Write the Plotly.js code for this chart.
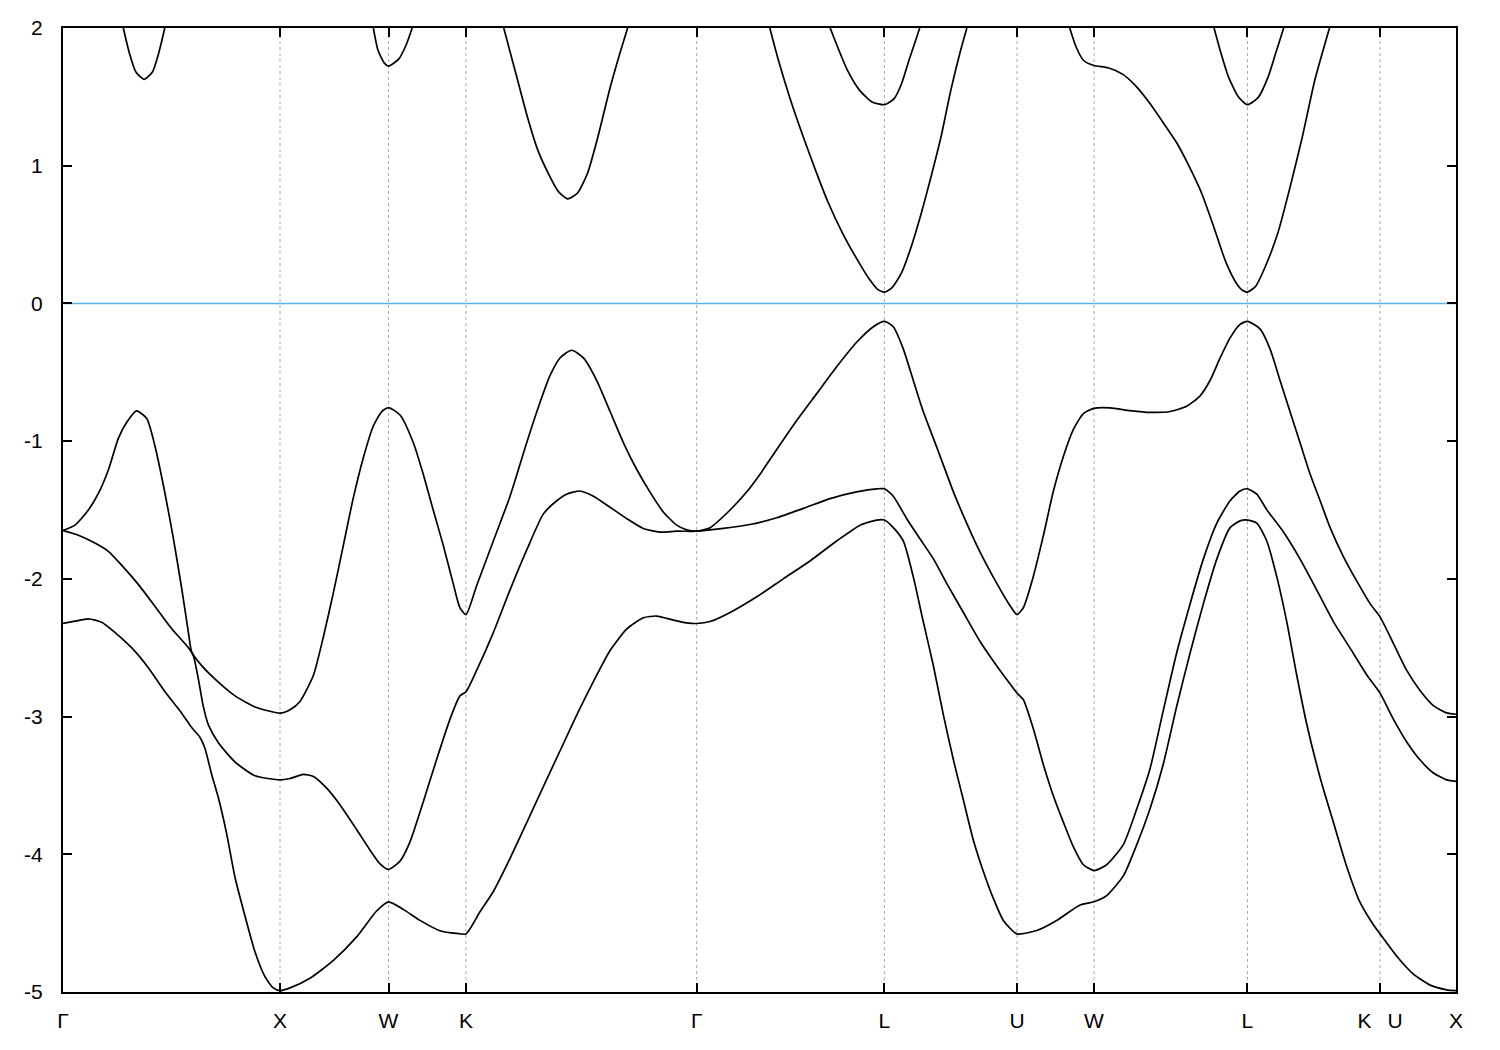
<!DOCTYPE html>
<html>
<head>
<meta charset="utf-8">
<script src="https://cdn.plot.ly/plotly-3.0.1.min.js"></script>
<style>html,body{margin:0;padding:0;background:#fff;}#chart{width:1500px;height:1050px;}</style>
</head>
<body>
<div id="chart"></div>
<script>
// High-symmetry points along the k-path
const kTickVals = [0, 1.0, 1.5, 1.857, 2.92, 3.785, 4.396, 4.751, 5.458, 6.069, 6.419];
const kTickText = ["Γ", "X", "W", "K", "Γ", "L", "U", "W", "L", "K\u00A0\u00A0\u2009U", "X"];
const kGridVals = [1.0, 1.5, 1.857, 2.92, 3.785, 4.396, 4.751, 5.458, 6.069];
const eTickVals = [-5, -4, -3, -2, -1, 0, 1, 2];
const eTickText = ["-5", "-4", "-3", "-2", "-1", "0", "1", "2"];

// Valence band 1 (highest)
const v1k = [0,0.055,0.117,0.163,0.209,0.255,0.293,0.339,0.386,0.424,0.47,0.508,0.547,0.578,0.593,0.639,0.716,0.793,0.885,1.0,
1.046,1.092,1.154,1.2,1.246,1.292,1.338,1.384,1.43,1.469,1.5,1.553,1.614,1.66,1.706,1.752,1.799,1.829,1.857,
1.906,1.983,2.06,2.137,2.198,2.244,2.29,2.344,2.398,2.459,2.521,2.582,2.644,2.705,2.766,2.828,2.874,2.92,
2.982,3.074,3.151,3.212,3.289,3.381,3.473,3.565,3.657,3.734,3.785,
3.826,3.872,3.918,3.964,4.011,4.057,4.103,4.164,4.226,4.303,4.364,4.396,
4.425,4.471,4.517,4.563,4.61,4.656,4.702,4.751,
4.825,4.917,5.009,5.101,5.178,5.24,5.286,5.332,5.378,5.424,5.458,
5.516,5.562,5.608,5.654,5.700,5.747,5.793,5.839,5.900,5.962,6.023,6.069,6.131,6.192,6.253,6.315,6.376,6.419];
const v1e = [-1.649,-1.61,-1.50,-1.38,-1.21,-0.98,-0.865,-0.78,-0.836,-1.037,-1.38,-1.70,-2.07,-2.39,-2.53,-2.63,-2.75,-2.85,-2.93,-2.975,
-2.95,-2.89,-2.70,-2.42,-2.10,-1.755,-1.41,-1.12,-0.89,-0.785,-0.756,-0.81,-1.01,-1.24,-1.50,-1.755,-2.04,-2.21,-2.26,
-2.05,-1.725,-1.40,-1.01,-0.72,-0.525,-0.396,-0.34,-0.396,-0.558,-0.785,-1.01,-1.206,-1.37,-1.514,-1.61,-1.644,-1.654,
-1.628,-1.50,-1.368,-1.24,-1.06,-0.85,-0.655,-0.46,-0.282,-0.169,-0.13,
-0.169,-0.33,-0.558,-0.785,-0.98,-1.174,-1.368,-1.595,-1.806,-2.033,-2.195,-2.26,
-2.21,-1.984,-1.69,-1.368,-1.11,-0.914,-0.80,-0.762,
-0.759,-0.778,-0.791,-0.785,-0.746,-0.671,-0.558,-0.396,-0.25,-0.152,-0.13,
-0.185,-0.33,-0.558,-0.785,-1.01,-1.24,-1.433,-1.628,-1.838,-2.017,-2.18,-2.276,-2.47,-2.665,-2.81,-2.92,-2.973,-2.983];

// Valence band 2
const v2k = [0,0.071,0.147,0.209,0.27,0.347,0.424,0.5,0.578,0.601,0.624,0.647,0.67,0.716,0.793,0.885,1.0,
1.046,1.107,1.154,1.215,1.276,1.353,1.415,1.461,1.5,1.553,1.599,1.66,1.722,1.783,1.829,1.857,
1.906,1.983,2.06,2.137,2.213,2.275,2.321,2.382,2.444,2.521,2.598,2.674,2.751,2.828,2.92,
3.043,3.166,3.289,3.412,3.535,3.657,3.75,3.785,
3.826,3.888,3.949,4.011,4.072,4.149,4.226,4.303,4.379,4.396,
4.425,4.471,4.517,4.563,4.61,4.656,4.702,4.751,
4.809,4.886,4.948,5.009,5.07,5.132,5.194,5.255,5.317,5.378,5.424,5.458,
5.501,5.547,5.624,5.700,5.777,5.854,5.931,6.008,6.069,6.131,6.192,6.253,6.315,6.376,6.419];
const v2e = [-1.649,-1.683,-1.74,-1.80,-1.90,-2.04,-2.20,-2.36,-2.50,-2.56,-2.73,-2.93,-3.06,-3.19,-3.33,-3.43,-3.46,
-3.45,-3.42,-3.435,-3.52,-3.64,-3.82,-3.97,-4.07,-4.11,-4.05,-3.91,-3.62,-3.31,-3.02,-2.85,-2.82,
-2.665,-2.39,-2.08,-1.79,-1.53,-1.433,-1.385,-1.362,-1.40,-1.48,-1.563,-1.634,-1.66,-1.654,-1.654,
-1.634,-1.605,-1.556,-1.488,-1.417,-1.368,-1.346,-1.346,
-1.40,-1.563,-1.709,-1.855,-2.033,-2.244,-2.455,-2.633,-2.795,-2.83,
-2.876,-3.087,-3.346,-3.573,-3.768,-3.946,-4.076,-4.118,
-4.076,-3.93,-3.67,-3.379,-2.957,-2.536,-2.18,-1.855,-1.595,-1.433,-1.362,-1.346,
-1.385,-1.498,-1.66,-1.855,-2.08,-2.31,-2.503,-2.698,-2.83,-3.02,-3.184,-3.314,-3.41,-3.46,-3.47];

// Valence band 3
const v3k = [0,0.055,0.117,0.178,0.24,0.316,0.393,0.47,0.547,0.593,0.631,0.654,0.685,0.716,0.754,0.793,0.839,0.885,0.931,0.969,1.0,
1.046,1.138,1.246,1.353,1.446,1.5,1.568,1.645,1.737,1.814,1.857,
1.922,1.983,2.06,2.137,2.213,2.29,2.367,2.444,2.521,2.598,2.674,2.736,2.813,2.874,2.92,
2.982,3.074,3.197,3.319,3.442,3.565,3.673,3.75,3.785,
3.826,3.872,3.918,3.964,4.011,4.057,4.103,4.149,4.195,4.241,4.287,4.333,4.396,
4.487,4.579,4.687,4.751,
4.809,4.886,4.948,5.009,5.07,5.132,5.194,5.255,5.317,5.378,5.424,5.458,
5.501,5.547,5.593,5.639,5.685,5.731,5.793,5.854,5.916,5.977,6.039,6.069,6.146,6.223,6.300,6.376,6.419];
const v3e = [-2.324,-2.307,-2.29,-2.315,-2.39,-2.50,-2.645,-2.82,-2.975,-3.08,-3.15,-3.23,-3.42,-3.59,-3.85,-4.17,-4.45,-4.71,-4.89,-4.97,-4.99,
-4.97,-4.90,-4.77,-4.60,-4.41,-4.345,-4.40,-4.48,-4.555,-4.575,-4.578,
-4.416,-4.27,-4.03,-3.77,-3.51,-3.25,-2.99,-2.746,-2.52,-2.364,-2.283,-2.27,-2.30,-2.32,-2.324,
-2.31,-2.244,-2.13,-2.00,-1.87,-1.725,-1.61,-1.573,-1.573,
-1.628,-1.725,-1.984,-2.31,-2.633,-2.99,-3.314,-3.606,-3.898,-4.125,-4.32,-4.48,-4.578,
-4.553,-4.48,-4.368,-4.345,
-4.30,-4.157,-3.93,-3.67,-3.346,-2.925,-2.536,-2.18,-1.855,-1.628,-1.579,-1.573,
-1.595,-1.725,-1.984,-2.31,-2.698,-3.054,-3.444,-3.768,-4.092,-4.35,-4.514,-4.578,-4.74,-4.87,-4.95,-4.984,-4.99];

// Lowest conduction band (only the parts below 2 eV are visible)
const c1k = [0.278,0.307,0.336,0.374,0.412,0.44,0.469,null,
1.43,1.452,1.481,1.5,1.548,1.583,1.609,null,
2.031,2.083,2.14,2.188,2.236,2.283,2.325,2.37,2.417,2.465,2.522,2.57,2.602,null,
3.257,3.297,3.354,3.411,3.467,3.524,3.592,3.66,3.717,3.755,3.785,3.819,3.864,3.909,3.955,4.0,4.046,4.091,4.136,4.165,null,
4.639,4.669,4.703,4.751,4.816,4.884,4.941,5.009,5.077,5.134,5.19,5.247,5.304,5.36,5.406,5.435,5.458,5.496,5.541,5.598,5.655,5.711,5.768,5.836];
const c1e = [2,1.812,1.68,1.627,1.68,1.812,2,null,
2,1.836,1.745,1.723,1.776,1.884,2,null,
2,1.692,1.354,1.113,0.945,0.812,0.759,0.80,0.945,1.21,1.571,1.836,2,null,
2,1.764,1.47,1.21,0.97,0.74,0.511,0.318,0.173,0.10,0.082,0.113,0.222,0.414,0.655,0.92,1.21,1.547,1.836,2,null,
2,1.86,1.764,1.728,1.711,1.663,1.583,1.451,1.295,1.161,0.993,0.80,0.55,0.294,0.149,0.096,0.082,0.125,0.27,0.511,0.848,1.21,1.619,2];

// Second conduction band (pockets at L)
const c2k = [3.535,3.57,3.615,3.671,3.728,3.785,3.83,3.864,3.898,3.948,null,
5.304,5.337,5.371,5.417,5.458,5.507,5.553,5.587,5.625];
const c2e = [2,1.86,1.692,1.547,1.463,1.443,1.487,1.595,1.764,2,null,
2,1.812,1.643,1.499,1.443,1.494,1.643,1.812,2];

const fermiLevel = 0;

const bands = [[v1k,v1e],[v2k,v2e],[v3k,v3e],[c1k,c1e],[c2k,c2e]];
const traces = bands.map(([k,e]) => ({
  x: k, y: e, type: 'scatter', mode: 'lines',
  line: {color: '#000000', width: 1.7, shape: 'spline', smoothing: 0.6},
  connectgaps: false, hoverinfo: 'skip', showlegend: false
}));

const font = {family: '"Liberation Sans", Arial, sans-serif', size: 21, color: '#000'};

const shapes = kGridVals.map(v => ({
  type: 'line', xref: 'x', yref: 'paper', x0: v, x1: v, y0: 0, y1: 1,
  line: {color: '#a8a8a8', width: 1, dash: '3px,3px'}, layer: 'below'
}));
shapes.push({type: 'line', xref: 'paper', yref: 'y', x0: 0, x1: 1, y0: fermiLevel, y1: fermiLevel,
  line: {color: '#56B4E9', width: 1.6}, layer: 'below'});

const layout = {
  width: 1500, height: 1050,
  margin: {l: 63, r: 44, t: 28, b: 58},
  paper_bgcolor: '#fff', plot_bgcolor: '#fff',
  font: font,
  showlegend: false,
  xaxis: {
    range: [0, 6.419], tickmode: 'array', tickvals: kTickVals, ticktext: kTickText,
    showgrid: false, zeroline: false,
    showline: true, linecolor: '#000', linewidth: 2, mirror: 'ticks',
    ticks: 'inside', ticklen: 9, tickwidth: 2, tickcolor: '#000',
    tickfont: font, ticklabelstandoff: 9
  },
  yaxis: {
    range: [-5, 2], tickmode: 'array', tickvals: eTickVals, ticktext: eTickText,
    showgrid: false, zeroline: false,
    showline: true, linecolor: '#000', linewidth: 2, mirror: 'ticks',
    ticks: 'inside', ticklen: 9, tickwidth: 2, tickcolor: '#000',
    tickfont: font, ticklabelstandoff: 14
  },
  shapes: shapes
};

Plotly.newPlot('chart', traces, layout, {staticPlot: true, displayModeBar: false});
</script>
</body>
</html>
